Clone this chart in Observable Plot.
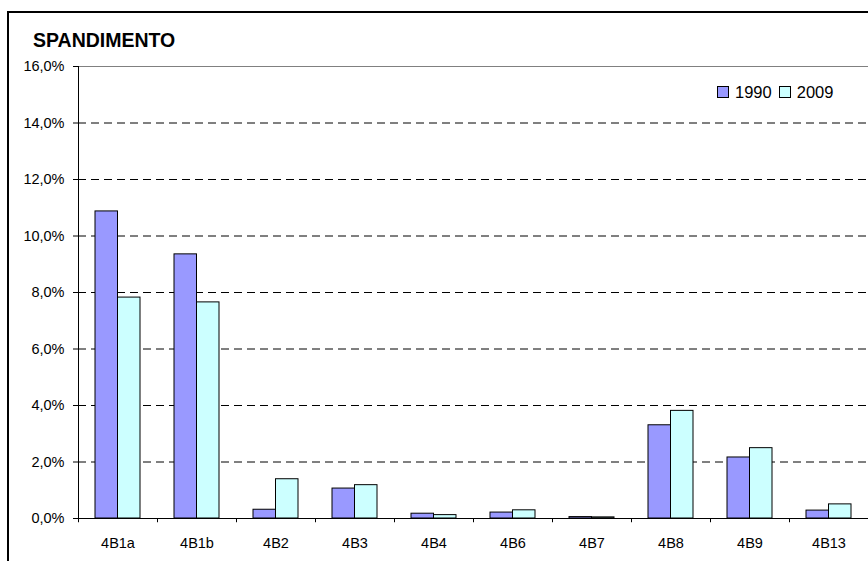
<!DOCTYPE html>
<html>
<head>
<meta charset="utf-8">
<script src="https://cdn.jsdelivr.net/npm/d3@7"></script>
<script src="https://cdn.jsdelivr.net/npm/@observablehq/plot@0.6"></script>
<style>
  html, body { margin: 0; padding: 0; background: #fff; overflow: hidden; width: 868px; height: 561px; }
  #wrap { position: relative; width: 868px; height: 561px; overflow: hidden; font-family: "Liberation Sans", Arial, sans-serif; color: #000; }
  #hline { position: absolute; left: 7px; top: 11px; width: 861px; height: 1.5px; background: #000; }
  #vline { position: absolute; left: 7px; top: 11px; width: 1.5px; height: 550px; background: #000; }
  #title { position: absolute; left: 33px; top: 31px; font-size: 19.5px; font-weight: bold; line-height: 1; white-space: nowrap; }
  #legend { position: absolute; left: 717px; top: 84px; font-size: 16.5px; line-height: 1; display: flex; align-items: center; white-space: nowrap; }
  .sw { display: inline-block; width: 10px; height: 10px; border: 1px solid #000; margin-right: 6px; }
  .item { display: flex; align-items: center; margin-right: 7px; }
  #chart { position: absolute; left: 0; top: 0; width: 868px; height: 561px; }
  #chart svg { display: block; }
</style>
</head>
<body>
<div id="wrap">
  <div id="hline"></div>
  <div id="vline"></div>
  <div id="chart"></div>
  <div id="title"></div>
  <div id="legend"></div>
</div>
<script>
const title = "SPANDIMENTO";
const categories = ["4B1a", "4B1b", "4B2", "4B3", "4B4", "4B6", "4B7", "4B8", "4B9", "4B13"];
const series = ["1990", "2009"];
const v1990 = [10.87, 9.35, 0.31, 1.06, 0.17, 0.21, 0.05, 3.30, 2.16, 0.28];
const v2009 = [7.82, 7.65, 1.39, 1.18, 0.12, 0.29, 0.04, 3.81, 2.49, 0.50];
const yTicks = [0, 2, 4, 6, 8, 10, 12, 14, 16];
const colors = ["#9999FF", "#CCFFFF"];

const data = categories.map((c, i) => ({cat: c, a: v1990[i], b: v2009[i]}));
const fmt = d => d.toFixed(1).replace(".", ",") + "%";

const chart = Plot.plot({
  width: 868,
  height: 561,
  marginTop: 66,
  marginLeft: 78,
  marginRight: 0,
  marginBottom: 43,
  style: {fontFamily: "'Liberation Sans', Arial, sans-serif", fontSize: "14.5px", color: "#000", background: "transparent"},
  x: {domain: categories, paddingInner: 0.43, paddingOuter: 0.215, label: null, tickSize: 0, tickPadding: 19},
  y: {domain: [0, 16], label: null, ticks: yTicks, tickSize: 5, tickPadding: 9, tickFormat: fmt},
  marks: [
    Plot.ruleY(yTicks.filter(d => d > 0 && d < 16), {stroke: "#000", strokeDasharray: "8,5", strokeWidth: 1}),
    Plot.ruleY([16], {stroke: "#808080", strokeWidth: 1}),
    Plot.barY(data, {x: "cat", y: "a", fill: colors[0], stroke: "#000", strokeWidth: 1, insetRight: 22.5}),
    Plot.barY(data, {x: "cat", y: "b", fill: colors[1], stroke: "#000", strokeWidth: 1, insetLeft: 22.5}),
    Plot.ruleY([0], {stroke: "#000", strokeWidth: 1}),
    Plot.ruleX(categories, {x: d => d, dx: -39.5, y1: 0, y2: -0.15, stroke: "#000"}),
    Plot.ruleX([categories[0]], {x: d => d, dx: -39.5, y1: 0, y2: 16, stroke: "#000"})
  ]
});
document.getElementById("chart").appendChild(chart);
document.getElementById("title").textContent = title;

const legend = document.getElementById("legend");
series.forEach((s, i) => {
  const item = document.createElement("div");
  item.className = "item";
  const sw = document.createElement("span");
  sw.className = "sw";
  sw.style.background = colors[i];
  const t = document.createElement("span");
  t.textContent = s;
  item.appendChild(sw);
  item.appendChild(t);
  legend.appendChild(item);
});
</script>
</body>
</html>
